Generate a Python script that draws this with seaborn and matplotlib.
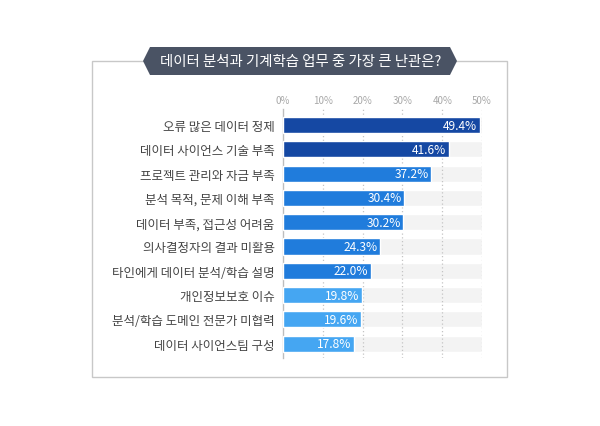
import matplotlib
matplotlib.use("Agg")
import matplotlib.pyplot as plt
from matplotlib.patches import Polygon, Rectangle
import seaborn as sns
import pandas as pd

# data
categories = [
    "오류 많은 데이터 정제",
    "데이터 사이언스 기술 부족",
    "프로젝트 관리와 자금 부족",
    "분석 목적, 문제 이해 부족",
    "데이터 부족, 접근성 어려움",
    "의사결정자의 결과 미활용",
    "타인에게 데이터 분석/학습 설명",
    "개인정보보호 이슈",
    "분석/학습 도메인 전문가 미협력",
    "데이터 사이언스팀 구성",
]
values = [49.4, 41.6, 37.2, 30.4, 30.2, 24.3, 22.0, 19.8, 19.6, 17.8]
bar_colors = ["#1548a3", "#1548a3",
              "#207cdc", "#207cdc", "#207cdc", "#207cdc", "#207cdc",
              "#45a6f2", "#45a6f2", "#45a6f2"]
ticks = [0, 10, 20, 30, 40, 50]
tick_labels = ["0%", "10%", "20%", "30%", "40%", "50%"]
scale_max = 50
title = "데이터 분석과 기계학습 업무 중 가장 큰 난관은?"

sns.set_style("white")
plt.rcParams["font.family"] = ["Noto Sans CJK KR", "DejaVu Sans"]

df = pd.DataFrame({"category": categories, "value": values,
                   "full": [scale_max] * len(categories)})

W, H = 600, 427
fig = plt.figure(figsize=(6, 4.27), dpi=100)
ax = fig.add_axes([283 / W, 1 - 359 / H, 199 / W, 249 / H])

# background tracks
sns.barplot(data=df, x="full", y="category", color="#f3f3f3", width=0.66,
            orient="h", saturation=1, ax=ax, zorder=1)
for t in ticks[1:]:
    ax.axvline(t, color="#c4c4c4", lw=0.9, ls=(0, (1, 2)), zorder=2)
sns.barplot(data=df, x="value", y="category", hue="category",
            palette=bar_colors, legend=False, width=0.66, orient="h",
            saturation=1, ax=ax, zorder=3)

for i, v in enumerate(values):
    ax.text(v - 0.6, i, f"{v:.1f}%", ha="right", va="center",
            color="white", fontsize=8.6, zorder=4)

ax.set_xlim(0, scale_max)
ax.set_ylim(9.59, -0.66)
ax.xaxis.tick_top()
ax.set_xticks(ticks)
ax.set_xticklabels(tick_labels)
ax.tick_params(axis="x", length=0, pad=3, labelsize=7, labelcolor="#a8a8a8")
ax.tick_params(axis="y", length=0, pad=6, labelsize=9, labelcolor="#444444")
ax.set_xlabel("")
ax.set_ylabel("")
for s in ["top", "right", "bottom"]:
    ax.spines[s].set_visible(False)
ax.spines["left"].set_color("#bdbdbd")
ax.spines["left"].set_linewidth(1)
ax.patch.set_alpha(0)

# outer frame
fig.patches.append(Rectangle((92 / W, 1 - 378 / H), (507 - 92) / W,
                             (378 - 62) / H, transform=fig.transFigure,
                             fill=False, edgecolor="#c8c8c8", lw=1, zorder=0))
# title banner
pts = [(143, 62), (150, 48), (450, 48), (457, 62), (450, 76), (150, 76)]
fig.patches.append(Polygon([(x / W, 1 - y / H) for x, y in pts],
                           closed=True, transform=fig.transFigure,
                           facecolor="#4a5364", edgecolor="none", zorder=5))
fig.text(301 / W, 1 - 62 / H, title, ha="center", va="center",
         color="white", fontsize=10.4, zorder=6)

fig.savefig("out.png", dpi=100)
